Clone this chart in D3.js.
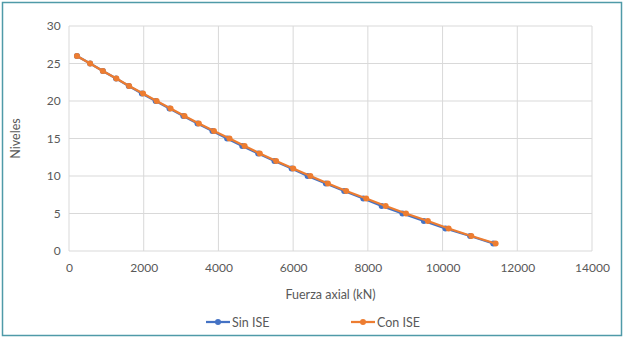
<!DOCTYPE html>
<html>
<head>
<meta charset="utf-8">
<script src="https://cdn.jsdelivr.net/npm/d3@7"></script>
<style>
  body { margin: 0; background: #fff; }
  text { font-family: Lato, "Open Sans", sans-serif; fill: #595959; }
</style>
</head>
<body>
<script>
// chart data
var niveles = [26, 25, 24, 23, 22, 21, 20, 19, 18, 17, 16, 15, 14, 13, 12, 11, 10, 9, 8, 7, 6, 5, 4, 3, 2, 1];
var sinISE = [213, 565, 906, 1260, 1600, 1950, 2320, 2690, 3060, 3440, 3840, 4233, 4638, 5065,
  5500, 5960, 6387, 6877, 7367, 7878, 8370, 8925, 9500, 10077, 10738, 11356];
var conISE = [213, 565, 906, 1269, 1610, 1983, 2346, 2719, 3092, 3476, 3881, 4297, 4702, 5108,
  5545, 6003, 6462, 6931, 7421, 7955, 8477, 9021, 9607, 10162, 10770, 11420];
var xTicks = [0, 2000, 4000, 6000, 8000, 10000, 12000, 14000];
var yTicks = [0, 5, 10, 15, 20, 25, 30];
var seriesNames = ["Sin ISE", "Con ISE"];
var seriesColors = ["#4472C4", "#ED7D31"];

var W = 624, H = 338;
var L = 69, R = 592, T = 26, B = 251;

var svg = d3.select("body").append("svg")
  .attr("width", W).attr("height", H);

// outer frame
svg.append("rect")
  .attr("x", 2.5).attr("y", 2.5)
  .attr("width", W - 5).attr("height", H - 5)
  .attr("fill", "#fff")
  .attr("stroke", "#4f9aa8")
  .attr("stroke-width", 1.5);

var x = d3.scaleLinear().domain([0, 14000]).range([L, R]);
var y = d3.scaleLinear().domain([0, 30]).range([B, T]);

// gridlines
svg.append("g").selectAll("line").data(xTicks).enter().append("line")
  .attr("x1", function(d) { return x(d); }).attr("x2", function(d) { return x(d); })
  .attr("y1", T).attr("y2", B)
  .attr("stroke", "#d9d9d9").attr("stroke-width", 1);
svg.append("g").selectAll("line").data(yTicks).enter().append("line")
  .attr("x1", L).attr("x2", R)
  .attr("y1", function(d) { return y(d); }).attr("y2", function(d) { return y(d); })
  .attr("stroke", "#d9d9d9").attr("stroke-width", 1);

// axes (labels only)
var xAxis = d3.axisBottom(x).tickValues(xTicks).tickSize(0).tickPadding(12).tickFormat(d3.format("d"));
var yAxis = d3.axisLeft(y).tickValues(yTicks).tickSize(0).tickPadding(12);
var gx = svg.append("g").attr("transform", "translate(0," + B + ")").call(xAxis);
var gy = svg.append("g").attr("transform", "translate(" + L + ",0)").call(yAxis);
[gx, gy].forEach(function(g) {
  g.select(".domain").remove();
  g.selectAll("text").attr("font-size", 12).attr("font-family", null).attr("fill", "#595959");
});
gy.selectAll("text").attr("dx", "0.3em");

// axis titles
svg.append("text")
  .attr("x", (L + R) / 2).attr("y", 299)
  .attr("text-anchor", "middle").attr("font-size", 12.5)
  .text("Fuerza axial (kN)");
svg.append("text")
  .attr("transform", "translate(20," + ((T + B) / 2) + ") rotate(-90)")
  .attr("text-anchor", "middle").attr("font-size", 12.5)
  .text("Niveles");

// series
var line = d3.line()
  .x(function(d) { return x(d[0]); })
  .y(function(d) { return y(d[1]); });

[sinISE, conISE].forEach(function(vals, i) {
  var pts = vals.map(function(v, j) { return [v, niveles[j]]; });
  svg.append("path").datum(pts)
    .attr("d", line)
    .attr("fill", "none")
    .attr("stroke", seriesColors[i])
    .attr("stroke-width", 2.25);
  svg.append("g").selectAll("circle").data(pts).enter().append("circle")
    .attr("cx", function(d) { return x(d[0]); })
    .attr("cy", function(d) { return y(d[1]); })
    .attr("r", 3)
    .attr("fill", seriesColors[i]);
});

// legend
var legX = [206, 351];
seriesNames.forEach(function(name, i) {
  var g = svg.append("g").attr("transform", "translate(" + legX[i] + ",322)");
  g.append("line").attr("x1", 0).attr("x2", 24).attr("y1", 0).attr("y2", 0)
    .attr("stroke", seriesColors[i]).attr("stroke-width", 2.25);
  g.append("circle").attr("cx", 12).attr("cy", 0).attr("r", 3).attr("fill", seriesColors[i]);
  g.append("text").attr("x", 26).attr("y", 4.5).attr("font-size", 12.5).text(name);
});
</script>
</body>
</html>
